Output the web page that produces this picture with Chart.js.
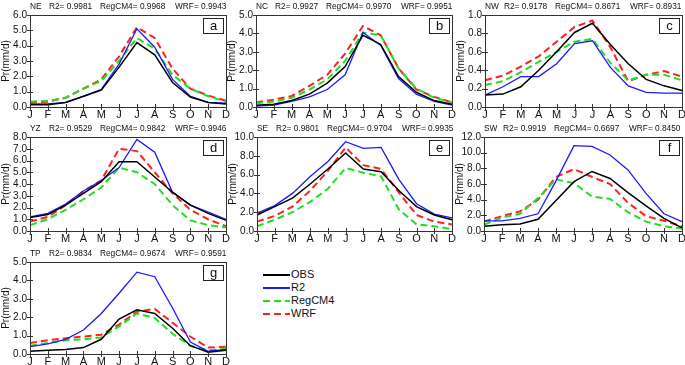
<!DOCTYPE html>
<html>
<head>
<meta charset="utf-8">
<script src="https://cdn.jsdelivr.net/npm/chart.js@4.4.0/dist/chart.umd.min.js"></script>
<style>
  body { margin: 0; background: #fff; font-family: "Liberation Sans", Arial, sans-serif; }
  #wrap { position: relative; width: 685px; height: 365px; overflow: hidden; }
  canvas { position: absolute; }
  .leg { position: absolute; left: 263px; font-size: 11px; color: #111; height: 12px; line-height: 12px; }
  .leg .ln { position: absolute; left: 0; top: 6px; width: 27px; height: 2px; }
  .leg span { position: absolute; left: 28px; top: 0; white-space: nowrap; }
</style>
</head>
<body>
<div id="wrap">
  <div class="leg" style="top:268px"><div class="ln" style="background:#000;height:1.5px"></div><span>OBS</span></div>
  <div class="leg" style="top:281px"><div class="ln" style="background:#1a1aff;height:1.5px"></div><span>R2</span></div>
  <div class="leg" style="top:294px"><div class="ln" style="background:repeating-linear-gradient(90deg,#22dd22 0 7px,transparent 7px 11px)"></div><span>RegCM4</span></div>
  <div class="leg" style="top:307px"><div class="ln" style="background:repeating-linear-gradient(90deg,#ff2020 0 7px,transparent 7px 11px)"></div><span>WRF</span></div>
</div>
<script>
const months = ['J', 'F', 'M', 'A', 'M', 'J', 'J', 'A', 'S', 'O', 'N', 'D'];

// NE
const neObs = [0.15, 0.15, 0.3, 0.7, 1.1, 2.6, 4.2, 3.4, 1.6, 0.65, 0.3, 0.2];
const neR2  = [0.2, 0.2, 0.3, 0.7, 1.15, 2.8, 5.1, 3.9, 1.8, 0.7, 0.3, 0.25];
const neReg = [0.35, 0.4, 0.6, 1.2, 1.7, 3.0, 4.5, 3.8, 2.1, 1.2, 0.7, 0.35];
const neWrf = [0.3, 0.35, 0.6, 1.2, 1.8, 3.3, 5.2, 4.5, 2.5, 1.2, 0.75, 0.4];
// NC
const ncObs = [0.1, 0.15, 0.35, 0.7, 1.3, 2.2, 3.9, 3.4, 1.65, 0.8, 0.35, 0.15];
const ncR2  = [0.05, 0.1, 0.3, 0.55, 0.95, 1.75, 4.05, 3.35, 1.55, 0.7, 0.3, 0.1];
const ncReg = [0.2, 0.3, 0.5, 0.95, 1.5, 2.5, 4.05, 3.9, 2.1, 1.0, 0.5, 0.25];
const ncWrf = [0.25, 0.4, 0.6, 1.15, 1.75, 2.9, 4.4, 3.9, 2.1, 0.95, 0.55, 0.25];
// NW
const nwObs = [0.13, 0.14, 0.22, 0.4, 0.6, 0.81, 0.91, 0.68, 0.47, 0.3, 0.23, 0.18];
const nwR2  = [0.13, 0.22, 0.33, 0.33, 0.47, 0.69, 0.72, 0.43, 0.23, 0.16, 0.15, 0.15];
const nwReg = [0.24, 0.28, 0.38, 0.49, 0.6, 0.71, 0.74, 0.48, 0.29, 0.35, 0.35, 0.29];
const nwWrf = [0.29, 0.34, 0.44, 0.55, 0.71, 0.87, 0.94, 0.65, 0.28, 0.35, 0.39, 0.33];
// YZ
const yzObs = [1.15, 1.4, 2.2, 3.2, 4.2, 5.9, 5.9, 4.6, 3.3, 2.2, 1.5, 0.9];
const yzR2  = [1.2, 1.5, 2.3, 3.4, 4.3, 5.4, 7.8, 6.7, 3.3, 2.2, 1.6, 1.0];
const yzReg = [0.5, 1.0, 1.8, 2.7, 3.7, 5.4, 5.0, 4.0, 2.2, 0.9, 0.5, 0.3];
const yzWrf = [0.8, 1.2, 2.2, 3.4, 4.3, 7.0, 6.8, 5.0, 3.2, 1.8, 1.0, 0.4];
// SE
const seObs = [1.7, 2.6, 3.5, 5.0, 6.6, 8.3, 6.6, 6.3, 4.3, 2.6, 1.7, 1.2];
const seR2  = [1.9, 2.7, 4.0, 5.8, 7.4, 9.5, 8.8, 8.9, 5.5, 2.9, 1.8, 1.4];
const seReg = [0.5, 1.2, 2.0, 3.1, 4.5, 6.7, 6.2, 5.8, 2.3, 0.7, 0.5, 0.2];
const seWrf = [1.0, 1.6, 2.6, 4.3, 6.4, 8.9, 7.0, 6.6, 4.1, 1.7, 1.0, 0.7];
// SW
const swObs = [0.6, 0.8, 0.9, 1.5, 3.9, 6.3, 7.6, 6.7, 4.9, 3.2, 1.6, 0.4];
const swR2  = [1.3, 1.3, 1.6, 2.2, 6.4, 10.9, 10.8, 9.7, 7.8, 4.8, 2.2, 1.2];
const swReg = [0.8, 1.7, 2.2, 4.2, 6.6, 6.1, 4.4, 4.1, 2.4, 1.2, 0.6, 0.3];
const swWrf = [1.2, 1.9, 2.5, 4.0, 6.9, 7.9, 6.9, 6.0, 3.6, 1.9, 1.3, 0.6];
// TP
const tpObs = [0.15, 0.2, 0.25, 0.35, 0.8, 1.9, 2.4, 2.2, 1.4, 0.45, 0.1, 0.2];
const tpR2  = [0.4, 0.55, 0.8, 1.3, 2.2, 3.3, 4.45, 4.2, 2.5, 0.65, 0.15, 0.25];
const tpReg = [0.45, 0.6, 0.75, 0.8, 0.9, 1.5, 2.2, 1.95, 1.1, 0.45, 0.2, 0.3];
const tpWrf = [0.6, 0.75, 0.85, 0.95, 1.05, 1.6, 2.3, 2.45, 1.7, 0.95, 0.35, 0.4];

const panels = [
  { id: 'NE', letter: 'a', stats: ['0.9981', '0.9968', '0.9943'], max: 6, step: 1, data: [neObs, neR2, neReg, neWrf], box: [30, 15, 226, 107] },
  { id: 'NC', letter: 'b', stats: ['0.9927', '0.9970', '0.9951'], max: 5, step: 1, data: [ncObs, ncR2, ncReg, ncWrf], box: [256, 15, 452, 107] },
  { id: 'NW', letter: 'c', stats: ['0.9178', '0.8671', '0.8931'], max: 1, step: 0.2, data: [nwObs, nwR2, nwReg, nwWrf], box: [485, 15, 682, 107] },
  { id: 'YZ', letter: 'd', stats: ['0.9529', '0.9842', '0.9946'], max: 8, step: 1, data: [yzObs, yzR2, yzReg, yzWrf], box: [30, 137, 226, 231] },
  { id: 'SE', letter: 'e', stats: ['0.9801', '0.9704', '0.9935'], max: 10, step: 2, data: [seObs, seR2, seReg, seWrf], box: [257, 137, 452, 231] },
  { id: 'SW', letter: 'f', stats: ['0.9919', '0.6697', '0.8450'], max: 12, step: 2, data: [swObs, swR2, swReg, swWrf], box: [484, 137, 682, 231] },
  { id: 'TP', letter: 'g', stats: ['0.9834', '0.9674', '0.9591'], max: 5, step: 1, data: [tpObs, tpR2, tpReg, tpWrf], box: [30, 262, 226, 354] }
];

const styles = [
  { label: 'OBS', color: '#000000', width: 1.5, dash: [] },
  { label: 'R2', color: '#1a1aff', width: 1.3, dash: [] },
  { label: 'RegCM4', color: '#22dd22', width: 2, dash: [7, 4] },
  { label: 'WRF', color: '#ff2020', width: 2, dash: [7, 4] }
];

const fontFamily = '"Liberation Sans", Arial, sans-serif';

const framePlugin = {
  id: 'frame',
  afterDraw(chart) {
    const p = chart.options.plugins.frame;
    const a = chart.chartArea;
    const ctx = chart.ctx;
    const xs = chart.scales.x, ys = chart.scales.y;
    ctx.save();
    ctx.strokeStyle = '#333';
    ctx.lineWidth = 1;
    ctx.strokeRect(Math.round(a.left) + 0.5, Math.round(a.top) + 0.5, Math.round(a.right - a.left), Math.round(a.bottom - a.top));
    ctx.beginPath();
    months.forEach((m, i) => {
      const x = Math.round(xs.getPixelForValue(i)) + 0.5;
      ctx.moveTo(x, a.bottom - 3);
      ctx.lineTo(x, a.bottom + 3);
    });
    ys.ticks.forEach(t => {
      const y = Math.round(ys.getPixelForValue(t.value)) + 0.5;
      ctx.moveTo(a.left - 3, y);
      ctx.lineTo(a.left + 3, y);
    });
    ctx.stroke();

    // header text
    ctx.fillStyle = '#111';
    ctx.font = '8.3px ' + fontFamily;
    ctx.textBaseline = 'middle';
    ctx.textAlign = 'left';
    const ty = a.top - 8;
    ctx.fillText(p.id, a.left, ty);
    ctx.fillText('R2= ' + p.stats[0], a.left + 19, ty);
    ctx.fillText('RegCM4= ' + p.stats[1], a.left + 70, ty);
    ctx.fillText('WRF= ' + p.stats[2], a.left + 145, ty);

    // panel letter box
    const bx = Math.round(a.right) - 23, by = Math.round(a.top) + 3;
    ctx.fillStyle = '#fff';
    ctx.fillRect(bx, by, 20, 15);
    ctx.strokeStyle = '#222';
    ctx.strokeRect(bx + 0.5, by + 0.5, 20, 15);
    ctx.fillStyle = '#111';
    ctx.font = '13px ' + fontFamily;
    ctx.textAlign = 'center';
    ctx.fillText(p.letter, bx + 10.5, by + 8);
    ctx.restore();
  }
};

const wrap = document.getElementById('wrap');

panels.forEach(p => {
  const [l, t, r, b] = p.box;
  const canvas = document.createElement('canvas');
  canvas.width = r - l + 36;
  canvas.height = b - t + 28;
  canvas.style.left = (l - 30) + 'px';
  canvas.style.top = (t - 15) + 'px';
  wrap.appendChild(canvas);

  new Chart(canvas.getContext('2d'), {
    type: 'line',
    data: {
      labels: months,
      datasets: p.data.map((d, i) => ({
        label: styles[i].label,
        data: d,
        borderColor: styles[i].color,
        borderWidth: styles[i].width,
        borderDash: styles[i].dash,
        pointRadius: 0,
        tension: 0,
        fill: false
      }))
    },
    options: {
      responsive: false,
      animation: false,
      layout: { padding: { top: 15, right: 6, left: 0, bottom: 0 } },
      plugins: {
        legend: { display: false },
        tooltip: { enabled: false },
        frame: { id: p.id, letter: p.letter, stats: p.stats }
      },
      scales: {
        x: {
          grid: { display: false, drawTicks: false },
          border: { display: false },
          ticks: { color: '#111', padding: 1, maxRotation: 0, autoSkip: false, font: { size: 11, family: fontFamily } },
          afterFit(s) { s.height = 13; }
        },
        y: {
          min: 0,
          max: p.max,
          grid: { display: false, drawTicks: false },
          border: { display: false },
          ticks: {
            stepSize: p.step,
            autoSkip: false,
            color: '#111',
            padding: 3,
            font: { size: 10, family: fontFamily },
            callback: v => Number(v).toFixed(1)
          },
          title: {
            display: true,
            text: 'Pr(mm/d)',
            color: '#111',
            padding: { top: 0, bottom: 0 },
            font: { size: 10, family: fontFamily }
          },
          afterFit(s) { s.width = 30; }
        }
      }
    },
    plugins: [framePlugin]
  });
});
</script>
</body>
</html>
